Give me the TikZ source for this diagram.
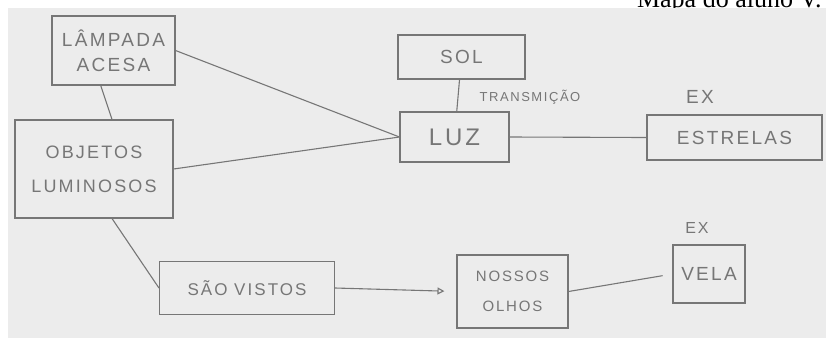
\documentclass[tikz,border=0pt]{standalone}
\usepackage{fontspec}
\setmainfont{Liberation Serif}
\newfontfamily\handfont[LetterSpace=12]{Liberation Sans}
\definecolor{paper}{RGB}{236, 236, 236}
\definecolor{pencil}{RGB}{118, 118, 118}
\usetikzlibrary{arrows.meta, positioning, calc}

\begin{document}
\begin{tikzpicture}[x=1pt, y=-1pt,
    conceito/.style={draw=pencil, line width=1.1pt, align=center, text=pencil,
      inner sep=0pt, font=\handfont\fontsize{19}{25}\selectfont},
    ligacao/.style={draw=pencil, line width=1.1pt},
    rotulo/.style={text=pencil, font=\handfont\fontsize{19}{25}\selectfont}]
  \useasboundingbox (0, 0) rectangle (826, 338);

  % Title, cut by the page edge
  \node[anchor=base east, font=\fontsize{26}{30}\selectfont] (titulo) at (825, 7) {Mapa do aluno V.};
  \fill[paper] (8, 8) rectangle (826, 338);

  % Left column
  \node[conceito, minimum width=123, minimum height=69] (lampada) at (113.5, 50.5) {LÂMPADA\\ACESA};
  \node[conceito, minimum width=158, minimum height=98, font=\handfont\fontsize{18}{34}\selectfont] (objetos) at (94, 169) {OBJETOS\\LUMINOSOS};

  % Light and its source
  \node[conceito, minimum width=127, minimum height=44] (sol) at (461.5, 57) {SOL};
  \node[conceito, minimum width=109, minimum height=50, font=\handfont\fontsize{24}{28}\selectfont] (luz) at (454.5, 137) {LUZ};
  \node[rotulo, font=\handfont\fontsize{13}{15}\selectfont] (transmicao) at (530, 97) {TRANSMIÇÃO};
  \node[conceito, minimum width=175, minimum height=45] (estrelas) at (734.5, 137.5) {ESTRELAS};
  \node[rotulo] (ex1) at (700, 97) {EX};

  % Bottom row
  \node[conceito, minimum width=175, minimum height=53, font=\handfont\fontsize{17}{22}\selectfont] (vistos) at (247, 288) {SÃO VISTOS};
  \node[conceito, minimum width=111, minimum height=73, font=\handfont\fontsize{15}{30}\selectfont] (olhos) at (512.5, 291.5) {NOSSOS\\OLHOS};
  \node[conceito, minimum width=72, minimum height=58] (vela) at (709, 274) {VELA};
  \node[rotulo, font=\handfont\fontsize{16}{20}\selectfont] (ex2) at (697, 228) {EX};

  % Connections
  \draw[ligacao] (lampada.250) -- (objetos.70);
  \draw[ligacao] (lampada.east) -- (luz.west);
  \draw[ligacao] (objetos.east) -- (luz.west);
  \draw[ligacao] (sol) -- (luz);
  \draw[ligacao] (luz.east) -- (estrelas.west);
  \draw[ligacao] (objetos.290) -- (vistos.west);
  \draw[ligacao, -{Triangle[open, length=7pt, width=7pt]}, shorten >=12pt] (vistos.east) -- (olhos.west);
  \draw[ligacao, shorten >=10pt] (olhos.east) -- (vela.west);
\end{tikzpicture}
\end{document}
